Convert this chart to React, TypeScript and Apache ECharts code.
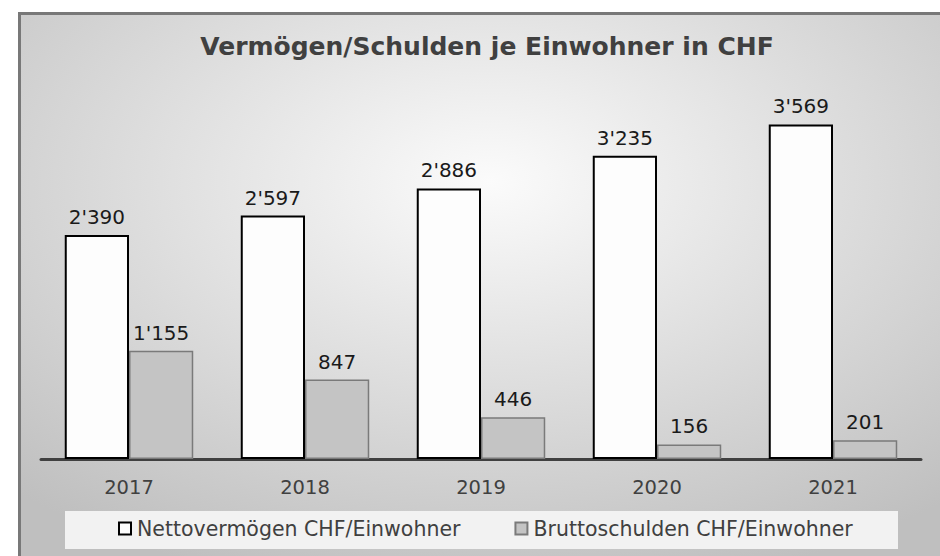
import React, { useEffect, useRef } from "react";
import * as echarts from "echarts";

const title = "Vermögen/Schulden je Einwohner in CHF";
const categories = ["2017", "2018", "2019", "2020", "2021"];
const seriesNames = ["Nettovermögen CHF/Einwohner", "Bruttoschulden CHF/Einwohner"];
const nettoValues = [2390, 2597, 2886, 3235, 3569];
const bruttoValues = [1155, 847, 446, 156, 201];

const fmt = (v: number) => {
  const s = String(Math.round(v));
  return s.replace(/\B(?=(\d{3})+(?!\d))/g, "'");
};

const FONT = "'DejaVu Sans', Verdana, sans-serif";

export default function App() {
  const ref = useRef<HTMLDivElement>(null);
  useEffect(() => {
    if (!ref.current) return;
    const chart = echarts.init(ref.current, undefined, { renderer: "svg" });
    const labelCfg = {
      show: true,
      position: "top" as const,
      distance: 8,
      color: "#1a1a1a",
      fontSize: 20,
      fontFamily: FONT,
      formatter: (p: any) => fmt(p.value),
    };
    chart.setOption({
      animation: false,
      graphic: [
        {
          type: "rect",
          z: -10,
          silent: true,
          shape: { x: 19.5, y: 13.5, width: 940, height: 560 },
          style: {
            fill: new echarts.graphic.RadialGradient(0.5, 0.3, 0.75, [
              { offset: 0, color: "#fbfbfb" },
              { offset: 1, color: "#bfbfbf" },
            ]),
            stroke: "#787878",
            lineWidth: 3,
          },
        },
        {
          type: "rect",
          z: -5,
          silent: true,
          shape: { x: 65, y: 511, width: 833, height: 38 },
          style: { fill: "#f2f2f2" },
        },
      ],
      title: {
        text: title,
        left: 482,
        textAlign: "center",
        top: 29,
        textStyle: { fontFamily: FONT, fontWeight: "bold", fontSize: 25, color: "#404040" },
      },
      legend: {
        data: seriesNames,
        left: 118,
        top: 518,
        padding: 0,
        itemWidth: 12,
        itemHeight: 12,
        itemGap: 54,
        icon: "rect",
        textStyle: { fontFamily: FONT, fontSize: 20.5, color: "#404040", padding: [0, 0, 0, 1] },
      },
      grid: { left: 41, right: 19, top: 84, bottom: 97 },
      xAxis: {
        type: "category",
        data: categories,
        axisLine: { show: true, lineStyle: { color: "#404040", width: 3 } },
        axisTick: { show: false },
        axisLabel: { color: "#404040", fontSize: 19.5, fontFamily: FONT, margin: 18 },
      },
      yAxis: {
        type: "value",
        min: 0,
        max: 4000,
        show: false,
        splitLine: { show: false },
      },
      series: [
        {
          name: seriesNames[0],
          type: "bar",
          data: nettoValues,
          barGap: "0%",
          barCategoryGap: "27%",
          itemStyle: { color: "#fdfdfd", borderColor: "#000000", borderWidth: 2 },
          label: labelCfg,
        },
        {
          name: seriesNames[1],
          type: "bar",
          data: bruttoValues,
          barGap: "0%",
          barCategoryGap: "27%",
          itemStyle: { color: "#c4c4c4", borderColor: "#7a7a7a", borderWidth: 1.5 },
          label: labelCfg,
        },
      ],
    });
    return () => chart.dispose();
  }, []);
  return (
    <div
      ref={ref}
      style={{ position: "absolute", left: 0, top: 0, width: 940, height: 556 }}
    />
  );
}
